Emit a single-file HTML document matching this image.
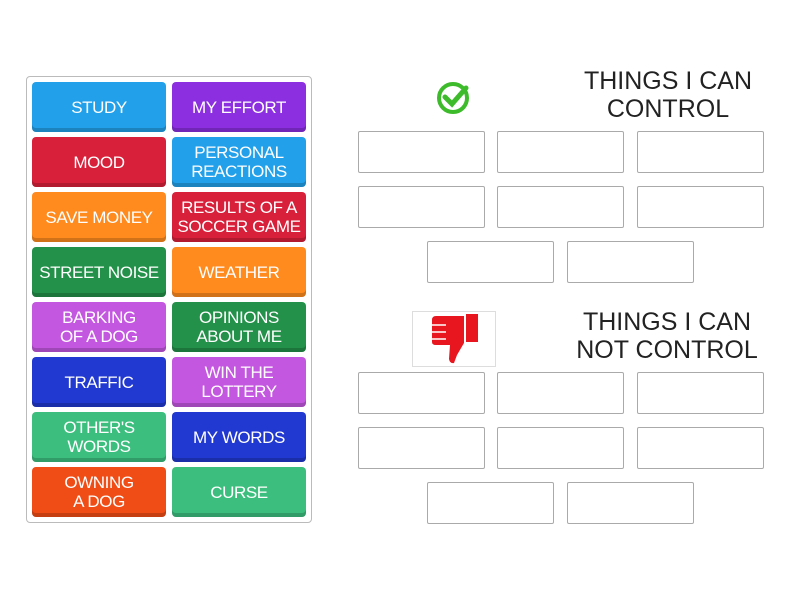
<!DOCTYPE html><html><head><style>
body{margin:0;width:800px;height:600px;background:#fff;position:relative;font-family:"Liberation Sans",sans-serif;overflow:hidden}
.c{position:absolute;left:26px;top:76px;width:284px;height:445px;border:1px solid #bbb;border-radius:4px}
.t{position:absolute;width:134px;height:50px;border-radius:4px;color:#fff;font-size:17px;letter-spacing:-0.4px;line-height:19px;display:flex;align-items:center;justify-content:center;text-align:center;box-shadow:inset 0 -4px 0 rgba(0,0,0,.18)}
.b{position:absolute;width:125px;height:40px;border:1px solid #aaa;border-radius:2px}
.h{position:absolute;font-size:25px;color:#222;text-align:center;line-height:28px}
</style></head><body>
<div class="c"></div>
<div class="t" style="left:32px;top:82px;background:#23a0ea">STUDY</div>
<div class="t" style="left:172px;top:82px;background:#8b2fe0">MY EFFORT</div>
<div class="t" style="left:32px;top:137px;background:#d8203a">MOOD</div>
<div class="t" style="left:172px;top:137px;background:#23a0ea">PERSONAL<br>REACTIONS</div>
<div class="t" style="left:32px;top:192px;background:#ff8a1e">SAVE MONEY</div>
<div class="t" style="left:172px;top:192px;background:#d8203a">RESULTS OF A<br>SOCCER GAME</div>
<div class="t" style="left:32px;top:247px;background:#23914a">STREET NOISE</div>
<div class="t" style="left:172px;top:247px;background:#ff8a1e">WEATHER</div>
<div class="t" style="left:32px;top:302px;background:#c457e0">BARKING<br>OF A DOG</div>
<div class="t" style="left:172px;top:302px;background:#23914a">OPINIONS<br>ABOUT ME</div>
<div class="t" style="left:32px;top:357px;background:#2139d0">TRAFFIC</div>
<div class="t" style="left:172px;top:357px;background:#c457e0">WIN THE<br>LOTTERY</div>
<div class="t" style="left:32px;top:412px;background:#3cbf7e">OTHER'S<br>WORDS</div>
<div class="t" style="left:172px;top:412px;background:#2139d0">MY WORDS</div>
<div class="t" style="left:32px;top:467px;background:#f04c15">OWNING<br>A DOG</div>
<div class="t" style="left:172px;top:467px;background:#3cbf7e">CURSE</div>

<svg style="position:absolute;left:436px;top:81px" width="34" height="34" viewBox="0 0 34 34"><circle cx="17" cy="17" r="14" fill="none" stroke="#3dbb2a" stroke-width="4"/><path d="M9 16l7 7 14-16" fill="none" stroke="#3dbb2a" stroke-width="5" stroke-linecap="round"/></svg>
<div class="h" style="left:568px;top:67px;width:200px">THINGS I CAN<br>CONTROL</div>
<div class="h" style="left:567px;top:308px;width:200px">THINGS I CAN<br>NOT CONTROL</div>
<div style="position:absolute;left:412px;top:311px;width:82px;height:54px;border:1px solid #ddd"></div>
<svg style="position:absolute;left:428px;top:313px" width="52" height="52" viewBox="0 0 52 52"><rect x="38" y="1" width="12" height="28" fill="#e8161e"/><path d="M36 3H8q-4 0-4 4v22q0 3 4 3h14l-1 14q1 5 5 4l3-8 7-12z" fill="#e8161e"/><path d="M4 12h14M4 19h14M4 26h14" stroke="#fff" stroke-width="1.5"/></svg>

<div class="b" style="left:358px;top:131px"></div><div class="b" style="left:497px;top:131px"></div><div class="b" style="left:637px;top:131px"></div>
<div class="b" style="left:358px;top:186px"></div><div class="b" style="left:497px;top:186px"></div><div class="b" style="left:637px;top:186px"></div>
<div class="b" style="left:427px;top:241px"></div><div class="b" style="left:567px;top:241px"></div>
<div class="b" style="left:358px;top:372px"></div><div class="b" style="left:497px;top:372px"></div><div class="b" style="left:637px;top:372px"></div>
<div class="b" style="left:358px;top:427px"></div><div class="b" style="left:497px;top:427px"></div><div class="b" style="left:637px;top:427px"></div>
<div class="b" style="left:427px;top:482px"></div><div class="b" style="left:567px;top:482px"></div>
</body></html>
